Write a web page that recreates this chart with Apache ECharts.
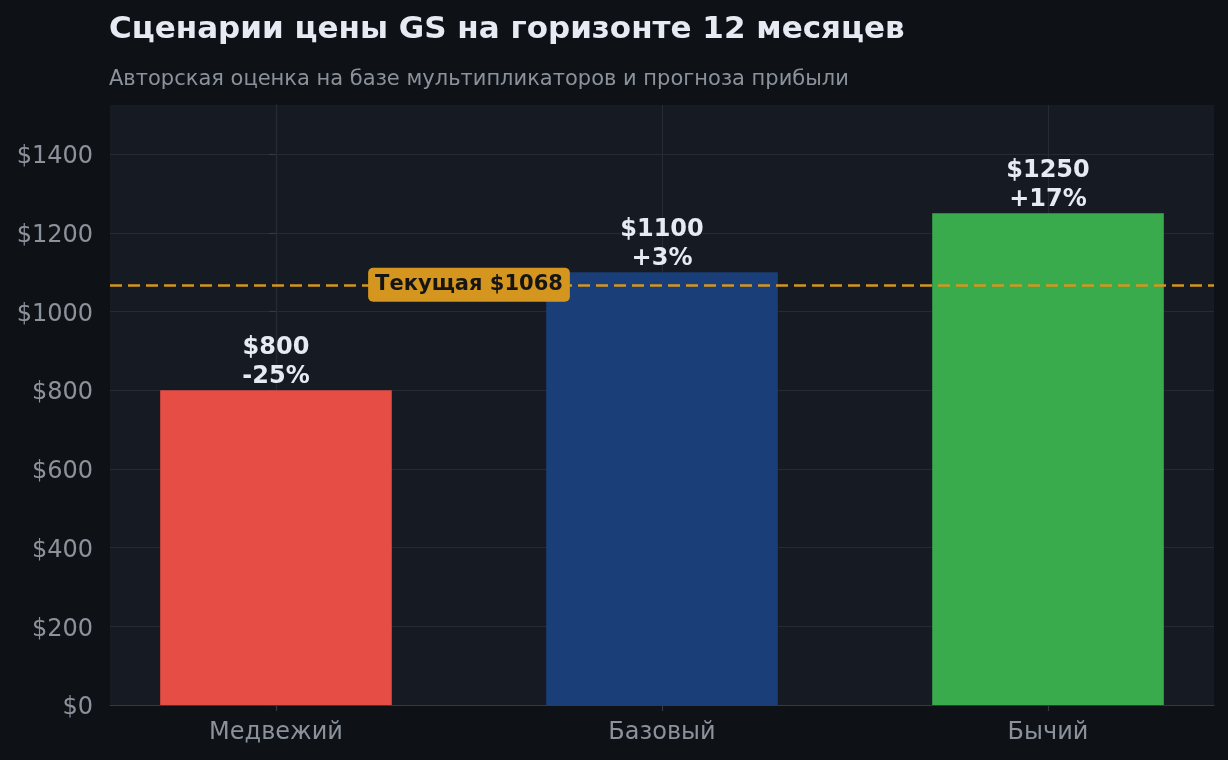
<!DOCTYPE html>
<html>
<head>
<meta charset="utf-8">
<script src="https://cdn.jsdelivr.net/npm/echarts@6/dist/echarts.min.js"></script>
<style>
  html, body { margin: 0; padding: 0; background: #0e1216; }
  #chart { width: 1228px; height: 760px; }
</style>
</head>
<body>
<div id="chart"></div>
<script>
// data
var categories = ["Медвежий", "Базовый", "Бычий"];
var targetPrices = [800, 1100, 1250];
var barColors = ["#e64d45", "#1a3f78", "#3aab4d"];
var currentPrice = 1068;
var yTicks = [0, 200, 400, 600, 800, 1000, 1200, 1400];

var font = "DejaVu Sans";
var gridColor = "#252a33";
var spineColor = "#343943";
var mutedText = "#8b929c";

var catIndex = categories.map(function (c, i) { return i; });

function pctText(v) {
  var p = Math.round((v / currentPrice - 1) * 100);
  return (p > 0 ? "+" : "") + p + "%";
}

var chart = echarts.init(document.getElementById("chart"));
var option = {
  backgroundColor: "#0e1216",
  animation: false,
  title: [
    {
      text: "Сценарии цены GS на горизонте 12 месяцев",
      left: 109,
      top: 14,
      padding: 0,
      textStyle: { color: "#e6ebf3", fontFamily: font, fontWeight: "bold", fontSize: 31 },
    },
    {
      text: "Авторская оценка на базе мультипликаторов и прогноза прибыли",
      left: 109,
      top: 69,
      padding: 0,
      textStyle: { color: mutedText, fontFamily: font, fontWeight: "normal", fontSize: 21 },
    },
  ],
  grid: { left: 110, right: 14, top: 105, bottom: 55, show: true, backgroundColor: "#161a22", borderWidth: 0 },
  xAxis: {
    type: "value",
    min: -0.43,
    max: 2.43,
    axisLine: { show: true, lineStyle: { color: spineColor, width: 1.2 } },
    axisTick: { show: true, customValues: catIndex, length: 6, lineStyle: { color: spineColor, width: 1.2 } },
    axisLabel: {
      customValues: catIndex,
      color: mutedText,
      fontFamily: font,
      fontSize: 24,
      margin: 16,
      formatter: function (v) { return categories[Math.round(v)]; },
    },
    splitLine: { show: false },
  },
  yAxis: {
    type: "value",
    min: 0,
    max: 1525,
    interval: 200,
    axisLine: { show: true, lineStyle: { color: spineColor, width: 1.2 } },
    axisTick: { show: true, length: 7, lineStyle: { color: spineColor, width: 1.2 } },
    axisLabel: {
      color: mutedText,
      fontFamily: font,
      fontSize: 24,
      margin: 17,
      showMaxLabel: false,
      formatter: function (v) { return yTicks.indexOf(v) >= 0 ? "{t|$" + v + "}" : ""; },
      rich: {
        t: { color: mutedText, fontFamily: font, fontSize: 24, padding: [6, 0, 0, 0] },
      },
    },
    splitLine: { show: true, showMaxLine: false, lineStyle: { color: gridColor, width: 1.2 } },
  },
  series: [
    {
      // vertical grid lines at category centres
      type: "line",
      data: [],
      z: 1,
      silent: true,
      markLine: {
        silent: true,
        z: 1,
        symbol: "none",
        label: { show: false },
        lineStyle: { color: gridColor, width: 1.2, type: "solid" },
        data: catIndex.map(function (i) { return { xAxis: i }; }),
      },
    },
    {
      type: "bar",
      barWidth: "60%",
      z: 2,
      data: targetPrices.map(function (v, i) {
        return { value: [i, v], itemStyle: { color: barColors[i] } };
      }),
      label: {
        show: true,
        position: "top",
        distance: -1,
        color: "#e6ebf3",
        fontFamily: font,
        fontWeight: "bold",
        fontSize: 24,
        lineHeight: 29,
        formatter: function (p) { return "$" + p.value[1] + "\n" + pctText(p.value[1]); },
      },
    },
    {
      // current price line and its label
      type: "line",
      data: [],
      z: 5,
      silent: true,
      markLine: {
        silent: true,
        z: 5,
        symbol: "none",
        label: { show: false },
        lineStyle: { color: "#d4961f", width: 2.6, type: [12, 6] },
        data: [{ yAxis: currentPrice }],
      },
      markPoint: {
        silent: true,
        z: 6,
        symbol: "rect",
        symbolSize: 0,
        data: [{ coord: [0.5, currentPrice] }],
        label: {
          show: true,
          position: "inside",
          formatter: "Текущая $" + currentPrice,
          color: "#151515",
          fontFamily: font,
          fontWeight: "bold",
          fontSize: 21,
          backgroundColor: "#d4961f",
          borderRadius: 5,
          padding: [7, 7, 6, 7],
        },
      },
    },
  ],
};
chart.setOption(option);
</script>
</body>
</html>
